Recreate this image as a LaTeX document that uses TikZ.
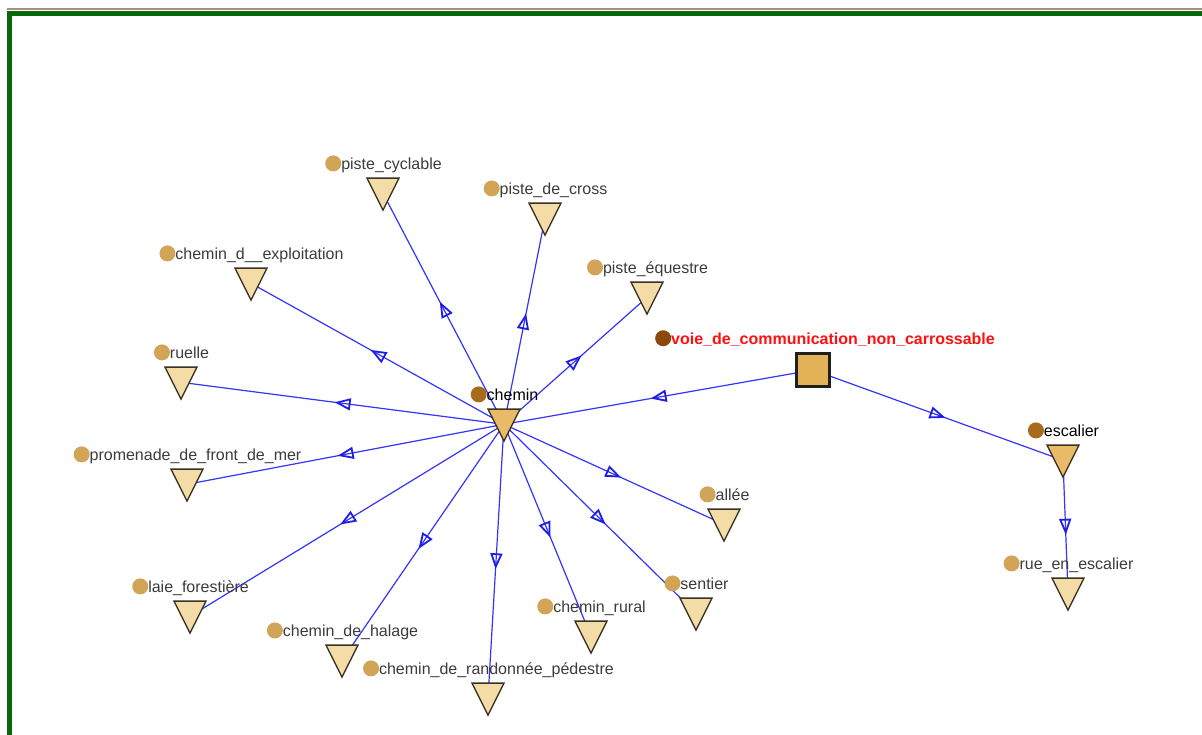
\documentclass[tikz,border=0pt]{standalone}
\usepackage{fontspec}
\setmainfont{Liberation Sans}
\usepackage{xcolor}
\usetikzlibrary{arrows.meta, positioning, shapes.geometric, decorations.markings, backgrounds}

\definecolor{leaf}{HTML}{F4DCA6}
\definecolor{inner}{HTML}{E9BA68}
\definecolor{rootfill}{HTML}{E3B257}
\definecolor{outl}{HTML}{3A3224}
\definecolor{dotleaf}{HTML}{D2A458}
\definecolor{dotinner}{HTML}{A86A1C}
\definecolor{dotroot}{HTML}{8A480C}
\definecolor{edgeblue}{HTML}{3434FA}
\definecolor{markblue}{HTML}{1E1EE8}
\definecolor{voiered}{HTML}{FF1010}
\definecolor{lbltext}{HTML}{3C3C3C}
\definecolor{framegreen}{HTML}{0B650B}

\begin{document}
\begin{tikzpicture}[
    x=1pt, y=-1pt,
    every node/.style={font=\fontsize{16}{19}\selectfont},
    concept/.style={isosceles triangle, isosceles triangle stretches,
                    shape border rotate=270, minimum width=32pt,
                    minimum height=32pt, inner sep=0pt, draw=outl,
                    line width=1.4pt, fill=leaf},
    topcls/.style={rectangle, minimum size=33pt, inner sep=0pt,
                   draw=black!88, line width=2.5pt, fill=rootfill},
    lbl/.style={inner sep=0pt, text height=12pt, text depth=4pt,
                text=lbltext, above=4pt of #1.north, xshift=8.5pt},
    dotc/.style={circle, inner sep=0pt, minimum size=16pt, fill=dotleaf,
                 anchor=south east, xshift=-2pt},
    isa/.style={draw=edgeblue, line width=1.2pt, postaction={decorate},
                decoration={markings, mark=at position 0.5 with
                {\arrow[xshift=8pt, markblue]
                 {Triangle[open, length=16pt, width=12pt, line width=1.8pt]}}}},
]
  \useasboundingbox (0,0) rectangle (1202,735);
  % window frame
  \draw[line width=2pt, black!45!brown!60] (7,9.5) -- (1210,9.5);
  \draw[line width=5pt, framegreen] (9.7,745) |- (1210,13.5);

  % classes (placed at the triangle centroids)
  \node[topcls] (voie) at (813,370) {};
  \node[concept, fill=inner] (chemin) at (504,419) {};
  \node[concept, fill=inner] (escalier) at (1063,455) {};
  \node[concept] (rue) at (1068,588) {};
  \node[concept] (cyclable) at (383,188) {};
  \node[concept] (cross) at (545,213) {};
  \node[concept] (equestre) at (647,292) {};
  \node[concept] (exploit) at (251,278) {};
  \node[concept] (ruelle) at (181,377) {};
  \node[concept] (promenade) at (187,479) {};
  \node[concept] (laie) at (190,611) {};
  \node[concept] (halage) at (342,655) {};
  \node[concept] (rando) at (488,693) {};
  \node[concept] (rural) at (591,631) {};
  \node[concept] (sentier) at (696,608) {};
  \node[concept] (allee) at (724,519) {};

  % labels
  \node[lbl=voie, xshift=11.5pt, text=voiered,
        font=\bfseries\fontsize{16}{19}\selectfont] (voie-l)
        {voie\_de\_communication\_non\_carrossable};
  \node[dotc, fill=dotroot] (voie-d) at (voie-l.base west) {};
  \node[lbl=chemin, text=black] (chemin-l) {chemin};
  \node[dotc, fill=dotinner] (chemin-d) at (chemin-l.base west) {};
  \node[lbl=escalier, text=black] (escalier-l) {escalier};
  \node[dotc, fill=dotinner] (escalier-d) at (escalier-l.base west) {};
  \node[lbl=rue] (rue-l) {rue\_en\_escalier};
  \node[dotc] (rue-d) at (rue-l.base west) {};
  \node[lbl=cyclable] (cyclable-l) {piste\_cyclable};
  \node[dotc] (cyclable-d) at (cyclable-l.base west) {};
  \node[lbl=cross] (cross-l) {piste\_de\_cross};
  \node[dotc] (cross-d) at (cross-l.base west) {};
  \node[lbl=equestre] (equestre-l) {piste\_équestre};
  \node[dotc] (equestre-d) at (equestre-l.base west) {};
  \node[lbl=exploit] (exploit-l) {chemin\_d\_\_exploitation};
  \node[dotc] (exploit-d) at (exploit-l.base west) {};
  \node[lbl=ruelle] (ruelle-l) {ruelle};
  \node[dotc] (ruelle-d) at (ruelle-l.base west) {};
  \node[lbl=promenade] (promenade-l) {promenade\_de\_front\_de\_mer};
  \node[dotc] (promenade-d) at (promenade-l.base west) {};
  \node[lbl=laie] (laie-l) {laie\_forestière};
  \node[dotc] (laie-d) at (laie-l.base west) {};
  \node[lbl=halage] (halage-l) {chemin\_de\_halage};
  \node[dotc] (halage-d) at (halage-l.base west) {};
  \node[lbl=rando] (rando-l) {chemin\_de\_randonnée\_pédestre};
  \node[dotc] (rando-d) at (rando-l.base west) {};
  \node[lbl=rural] (rural-l) {chemin\_rural};
  \node[dotc] (rural-d) at (rural-l.base west) {};
  \node[lbl=sentier] (sentier-l) {sentier};
  \node[dotc] (sentier-d) at (sentier-l.base west) {};
  \node[lbl=allee] (allee-l) {allée};
  \node[dotc] (allee-d) at (allee-l.base west) {};

  % subclass links, under the shapes (ends at mid-height of the triangles)
  \begin{pgfonlayer}{background}
    \fill[white] (0,0) rectangle (1202,735);
    \draw[isa] (voie.center) -- ([yshift=-5.3pt]chemin.center);
    \draw[isa] (voie.center) -- ([yshift=-5.3pt]escalier.center);
    \draw[isa] ([yshift=-5.3pt]escalier.center) -- ([yshift=-5.3pt]rue.center);
    \draw[isa] ([yshift=-5.3pt]chemin.center) -- ([yshift=-5.3pt]cyclable.center);
    \draw[isa] ([yshift=-5.3pt]chemin.center) -- ([yshift=-5.3pt]cross.center);
    \draw[isa] ([yshift=-5.3pt]chemin.center) -- ([yshift=-5.3pt]equestre.center);
    \draw[isa] ([yshift=-5.3pt]chemin.center) -- ([yshift=-5.3pt]exploit.center);
    \draw[isa] ([yshift=-5.3pt]chemin.center) -- ([yshift=-5.3pt]ruelle.center);
    \draw[isa] ([yshift=-5.3pt]chemin.center) -- ([yshift=-5.3pt]promenade.center);
    \draw[isa] ([yshift=-5.3pt]chemin.center) -- ([yshift=-5.3pt]laie.center);
    \draw[isa] ([yshift=-5.3pt]chemin.center) -- ([yshift=-5.3pt]halage.center);
    \draw[isa] ([yshift=-5.3pt]chemin.center) -- ([yshift=-5.3pt]rando.center);
    \draw[isa] ([yshift=-5.3pt]chemin.center) -- ([yshift=-5.3pt]rural.center);
    \draw[isa] ([yshift=-5.3pt]chemin.center) -- ([yshift=-5.3pt]sentier.center);
    \draw[isa] ([yshift=-5.3pt]chemin.center) -- ([yshift=-5.3pt]allee.center);
  \end{pgfonlayer}
\end{tikzpicture}
\end{document}
